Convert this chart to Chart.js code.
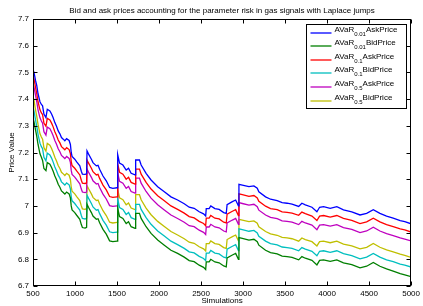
<!DOCTYPE html>
<html>
<head>
<meta charset="utf-8">
<script src="https://cdn.jsdelivr.net/npm/chart.js@4"></script>
<style>
html, body { margin: 0; padding: 0; background: #fff; }
</style>
</head>
<body>
<canvas id="myChart" width="423" height="306"></canvas>
<script>
const TITULO = "Bid and ask prices accounting for the parameter risk in gas signals with Laplace jumps"
const FUENTE = "'Liberation Sans', Arial, Helvetica, sans-serif"

// simulaciones (eje x)
const sims = [
    500, 512, 530, 545, 560, 583, 600, 614, 630, 654,
    670, 701, 721, 740, 760, 780, 800, 820, 839, 860,
    879, 900, 930, 945, 955, 965, 997, 1020, 1057, 1075,
    1088, 1120, 1138, 1143, 1160, 1195, 1214, 1254, 1274, 1293,
    1333, 1372, 1412, 1450, 1500, 1508, 1530, 1570, 1609, 1637,
    1668, 1715, 1722, 1767, 1787, 1846, 1905, 1984, 2063, 2142,
    2221, 2300, 2359, 2418, 2478, 2530, 2555, 2562, 2596, 2616,
    2665, 2715, 2770, 2800, 2810, 2873, 2912, 2945, 2951, 2991,
    3070, 3129, 3169, 3188, 3268, 3327, 3406, 3465, 3524, 3583,
    3662, 3700, 3741, 3820, 3879, 3911, 3958, 4037, 4116, 4195,
    4294, 4392, 4471, 4550, 4629, 4708, 4787, 4870, 4925, 5000
]

const ask001 = [
    7.51, 7.50, 7.47, 7.45, 7.42, 7.39, 7.38, 7.375, 7.344, 7.331,
    7.362, 7.356, 7.344, 7.33, 7.312, 7.298, 7.281, 7.27, 7.256, 7.25,
    7.244, 7.252, 7.245, 7.23, 7.20, 7.185, 7.175, 7.165, 7.15, 7.13,
    7.119, 7.118, 7.12, 7.206, 7.195, 7.175, 7.162, 7.15, 7.152, 7.137,
    7.112, 7.094, 7.069, 7.066, 7.068, 7.192, 7.16, 7.153, 7.134, 7.141,
    7.122, 7.116, 7.172, 7.172, 7.153, 7.122, 7.097, 7.072, 7.053, 7.034,
    7.022, 7.008, 6.995, 6.991, 6.978, 6.97, 6.962, 6.99, 6.99, 7.0,
    6.99, 6.987, 6.975, 6.972, 7.005, 7.016, 7.022, 7.0, 7.081, 7.078,
    7.072, 7.075, 7.066, 7.053, 7.034, 7.025, 7.02, 7.012, 7.01, 7.007,
    6.998, 7.01, 7.004, 6.995, 6.978, 6.995, 6.997, 6.991, 6.997, 6.985,
    6.978, 6.966, 6.972, 6.986, 6.972, 6.962, 6.954, 6.945, 6.941, 6.933
]

const bid001 = [
    7.33, 7.315, 7.285, 7.26, 7.23, 7.195, 7.182, 7.17, 7.14, 7.132,
    7.162, 7.156, 7.144, 7.13, 7.112, 7.098, 7.081, 7.07, 7.056, 7.05,
    7.044, 7.052, 7.045, 7.03, 7.0, 6.985, 6.975, 6.965, 6.95, 6.93,
    6.919, 6.917, 6.92, 7.006, 6.995, 6.975, 6.962, 6.95, 6.952, 6.937,
    6.912, 6.894, 6.869, 6.866, 6.868, 6.992, 6.96, 6.953, 6.934, 6.941,
    6.922, 6.916, 6.972, 6.972, 6.953, 6.922, 6.897, 6.872, 6.853, 6.834,
    6.822, 6.808, 6.795, 6.791, 6.778, 6.77, 6.762, 6.79, 6.79, 6.8,
    6.79, 6.787, 6.775, 6.772, 6.805, 6.816, 6.822, 6.8, 6.881, 6.878,
    6.872, 6.875, 6.866, 6.853, 6.834, 6.825, 6.82, 6.812, 6.81, 6.807,
    6.798, 6.81, 6.804, 6.796, 6.779, 6.796, 6.798, 6.792, 6.798, 6.787,
    6.78, 6.768, 6.774, 6.788, 6.774, 6.764, 6.756, 6.746, 6.742, 6.735
]

const ask01 = [
    7.49, 7.475, 7.445, 7.42, 7.39, 7.36, 7.348, 7.342, 7.31, 7.298,
    7.328, 7.322, 7.31, 7.296, 7.278, 7.264, 7.247, 7.236, 7.222, 7.216,
    7.21, 7.218, 7.211, 7.196, 7.166, 7.151, 7.141, 7.131, 7.116, 7.096,
    7.085, 7.084, 7.086, 7.172, 7.161, 7.141, 7.128, 7.116, 7.118, 7.103,
    7.078, 7.06, 7.035, 7.032, 7.034, 7.158, 7.126, 7.119, 7.1, 7.107,
    7.088, 7.082, 7.138, 7.138, 7.119, 7.088, 7.063, 7.038, 7.019, 7.0,
    6.987, 6.973, 6.96, 6.955, 6.942, 6.934, 6.926, 6.954, 6.954, 6.964,
    6.954, 6.951, 6.939, 6.936, 6.969, 6.98, 6.986, 6.964, 7.045, 7.042,
    7.036, 7.039, 7.03, 7.017, 6.999, 6.99, 6.986, 6.978, 6.976, 6.973,
    6.965, 6.977, 6.971, 6.962, 6.945, 6.962, 6.964, 6.958, 6.964, 6.953,
    6.946, 6.934, 6.94, 6.954, 6.94, 6.93, 6.922, 6.914, 6.91, 6.902
]

const bid01 = [
    7.37, 7.355, 7.322, 7.298, 7.268, 7.235, 7.222, 7.214, 7.182, 7.169,
    7.198, 7.191, 7.179, 7.164, 7.146, 7.132, 7.115, 7.104, 7.09, 7.084,
    7.078, 7.086, 7.079, 7.064, 7.034, 7.019, 7.009, 6.999, 6.984, 6.964,
    6.953, 6.951, 6.954, 7.04, 7.029, 7.009, 6.996, 6.984, 6.986, 6.971,
    6.946, 6.928, 6.903, 6.9, 6.902, 7.026, 6.994, 6.987, 6.968, 6.975,
    6.956, 6.95, 7.006, 7.006, 6.987, 6.956, 6.931, 6.906, 6.887, 6.868,
    6.855, 6.841, 6.828, 6.824, 6.811, 6.803, 6.795, 6.823, 6.823, 6.833,
    6.823, 6.82, 6.808, 6.805, 6.838, 6.849, 6.855, 6.833, 6.914, 6.911,
    6.905, 6.908, 6.899, 6.886, 6.868, 6.859, 6.854, 6.846, 6.844, 6.841,
    6.832, 6.844, 6.838, 6.83, 6.813, 6.83, 6.832, 6.826, 6.832, 6.821,
    6.814, 6.802, 6.808, 6.822, 6.808, 6.798, 6.791, 6.782, 6.778, 6.771
]

const ask05 = [
    7.46, 7.445, 7.415, 7.39, 7.36, 7.33, 7.318, 7.31, 7.278, 7.265,
    7.295, 7.289, 7.277, 7.263, 7.245, 7.231, 7.214, 7.203, 7.189, 7.183,
    7.177, 7.185, 7.178, 7.163, 7.133, 7.118, 7.108, 7.098, 7.083, 7.063,
    7.052, 7.05, 7.052, 7.138, 7.127, 7.107, 7.094, 7.082, 7.084, 7.069,
    7.044, 7.026, 7.001, 6.998, 7.0, 7.124, 7.092, 7.085, 7.066, 7.073,
    7.054, 7.048, 7.104, 7.104, 7.085, 7.054, 7.029, 7.004, 6.985, 6.966,
    6.953, 6.939, 6.926, 6.922, 6.909, 6.901, 6.893, 6.921, 6.921, 6.931,
    6.921, 6.918, 6.906, 6.903, 6.936, 6.947, 6.953, 6.931, 7.012, 7.009,
    7.003, 7.006, 6.997, 6.984, 6.966, 6.957, 6.952, 6.944, 6.942, 6.939,
    6.93, 6.942, 6.936, 6.928, 6.911, 6.928, 6.93, 6.924, 6.93, 6.919,
    6.912, 6.9, 6.906, 6.92, 6.906, 6.896, 6.889, 6.88, 6.876, 6.869
]

const bid05 = [
    7.41, 7.395, 7.36, 7.335, 7.305, 7.27, 7.258, 7.25, 7.218, 7.205,
    7.234, 7.227, 7.215, 7.2, 7.182, 7.168, 7.151, 7.14, 7.126, 7.12,
    7.114, 7.122, 7.115, 7.1, 7.07, 7.055, 7.045, 7.035, 7.02, 7.0,
    6.989, 6.987, 6.99, 7.076, 7.065, 7.045, 7.032, 7.02, 7.022, 7.007,
    6.982, 6.964, 6.939, 6.936, 6.938, 7.062, 7.03, 7.023, 7.004, 7.011,
    6.992, 6.986, 7.042, 7.042, 7.023, 6.992, 6.967, 6.942, 6.923, 6.904,
    6.891, 6.877, 6.864, 6.86, 6.847, 6.839, 6.831, 6.859, 6.859, 6.869,
    6.859, 6.856, 6.844, 6.841, 6.874, 6.885, 6.891, 6.869, 6.95, 6.947,
    6.941, 6.944, 6.935, 6.922, 6.904, 6.895, 6.89, 6.882, 6.88, 6.877,
    6.868, 6.88, 6.874, 6.866, 6.85, 6.866, 6.868, 6.862, 6.868, 6.857,
    6.85, 6.839, 6.845, 6.859, 6.845, 6.835, 6.828, 6.819, 6.815, 6.807
]

// leyenda: AVaR_{alfa} tipo
const series = [ask001, bid001, ask01, bid01, ask05, bid05]
const alfas = ['0.01', '0.01', '0.1', '0.1', '0.5', '0.5']
const tipos = ['AskPrice', 'BidPrice', 'AskPrice', 'BidPrice', 'AskPrice', 'BidPrice']
const colores = ['#0000ff', '#007f00', '#ff0000', '#00bfbf', '#bf00bf', '#bfbf00']

const xTicks = [500, 1000, 1500, 2000, 2500, 3000, 3500, 4000, 4500, 5000]
const yTicks = [6.7, 6.8, 6.9, 7, 7.1, 7.2, 7.3, 7.4, 7.5, 7.6, 7.7]

// marco, marcas hacia dentro, titulo y leyenda al estilo matlab
const marco = {
    id: 'marco',
    afterDraw(chart) {
        const { ctx, chartArea: a, scales: { x, y } } = chart
        const L = Math.round(a.left) + 0.5, R = Math.round(a.right) - 0.5
        const T = Math.round(a.top) + 0.5, B = Math.round(a.bottom) - 0.5
        ctx.save()
        ctx.strokeStyle = '#000'
        ctx.lineWidth = 1
        ctx.strokeRect(L, T, R - L, B - T)
        ctx.beginPath()
        xTicks.forEach(v => {
            const px = Math.round(x.getPixelForValue(v)) + 0.5
            ctx.moveTo(px, B); ctx.lineTo(px, B - 4)
            ctx.moveTo(px, T); ctx.lineTo(px, T + 4)
        })
        yTicks.forEach(v => {
            const py = Math.round(y.getPixelForValue(v)) + 0.5
            ctx.moveTo(L, py); ctx.lineTo(L + 4, py)
            ctx.moveTo(R, py); ctx.lineTo(R - 4, py)
        })
        ctx.stroke()

        // titulo
        ctx.fillStyle = '#000'
        ctx.font = '8px ' + FUENTE
        ctx.textAlign = 'center'
        ctx.textBaseline = 'middle'
        ctx.fillText(TITULO, (a.left + a.right) / 2, 10.5)

        // leyenda
        const bx = R - 104, by = T + 5, bw = 100, bh = 84
        ctx.fillStyle = '#fff'
        ctx.fillRect(bx, by, bw, bh)
        ctx.strokeStyle = '#000'
        ctx.strokeRect(bx, by, bw, bh)
        ctx.textAlign = 'left'
        ctx.textBaseline = 'alphabetic'
        series.forEach((s, i) => {
            const ly = Math.round(by + 8 + i * 13.6)
            ctx.strokeStyle = colores[i]
            ctx.lineWidth = 1.3
            ctx.beginPath()
            ctx.moveTo(bx + 4, ly); ctx.lineTo(bx + 25, ly)
            ctx.stroke()
            ctx.fillStyle = '#000'
            let tx = bx + 28
            ctx.font = '8px ' + FUENTE
            ctx.fillText('AVaR', tx, ly - 1.5)
            tx += ctx.measureText('AVaR').width
            ctx.font = '6px ' + FUENTE
            ctx.fillText(alfas[i], tx, ly + 2.5)
            tx += ctx.measureText(alfas[i]).width
            ctx.font = '8px ' + FUENTE
            ctx.fillText(tipos[i], tx, ly - 1.5)
        })
        ctx.restore()
    }
}

const ctx = document.getElementById('myChart')
const myChart = new Chart(ctx, {
    type: 'line',
    data: {
        datasets: series.map((s, i) => ({
            label: 'AVaR ' + alfas[i] + ' ' + tipos[i],
            data: sims.map((v, j) => ({ x: v, y: s[j] })),
            borderColor: colores[i],
            borderWidth: 1.3,
            pointRadius: 0,
            tension: 0,
            fill: false
        }))
    },
    options: {
        responsive: false,
        animation: false,
        layout: { padding: { top: 19, right: 10, left: 0, bottom: 0 } },
        plugins: {
            legend: { display: false },
            tooltip: { enabled: false },
            title: { display: false }
        },
        scales: {
            x: {
                type: 'linear',
                min: 500,
                max: 5000,
                grid: { display: false, drawTicks: false },
                border: { display: false },
                afterBuildTicks: s => { s.ticks = xTicks.map(v => ({ value: v })) },
                afterFit: s => { s.height = 20 },
                ticks: {
                    padding: 3,
                    maxRotation: 0,
                    autoSkip: false,
                    color: '#000',
                    font: { size: 8, family: FUENTE },
                    callback: v => String(v)
                },
                title: {
                    display: true,
                    text: 'Simulations',
                    color: '#000',
                    padding: { top: 0, bottom: 0 },
                    font: { size: 8, family: FUENTE }
                }
            },
            y: {
                min: 6.7,
                max: 7.7,
                grid: { display: false, drawTicks: false },
                border: { display: false },
                afterBuildTicks: s => { s.ticks = yTicks.map(v => ({ value: v })) },
                afterFit: s => { s.width = 33 },
                ticks: {
                    padding: 4,
                    autoSkip: false,
                    color: '#000',
                    font: { size: 8, family: FUENTE },
                    callback: v => String(Number(v.toFixed(1)))
                },
                title: {
                    display: true,
                    text: 'Price Value',
                    color: '#000',
                    padding: { top: 6.5, bottom: 0 },
                    font: { size: 8, family: FUENTE }
                }
            }
        }
    },
    plugins: [marco]
})
</script>
</body>
</html>
